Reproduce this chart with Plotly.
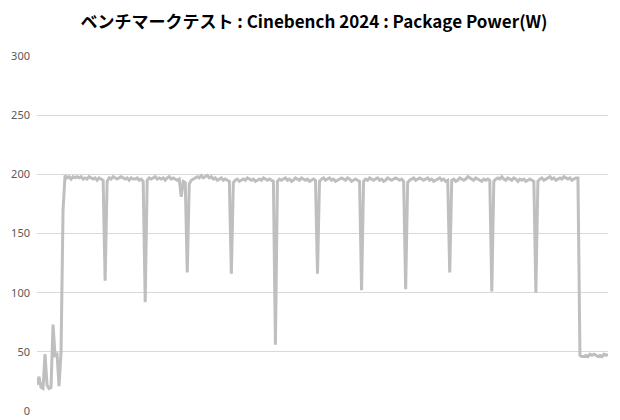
import plotly.graph_objects as go

title_text = "ベンチマークテスト : Cinebench 2024 : Package Power(W)"
y_ticks = [0, 50, 100, 150, 200, 250, 300]

package_power = [
    22, 29, 20, 19, 48, 22, 19, 20, 73, 47,
    48, 21, 50, 170, 199, 197, 198, 196, 198, 197,
    198, 197, 198, 196, 197, 196, 198, 197, 196, 197,
    195, 197, 196, 195, 110, 194, 197, 196, 198, 197,
    196, 197, 198, 197, 196, 197, 195, 197, 196, 196,
    197, 195, 196, 194, 92, 195, 197, 196, 197, 198,
    196, 197, 196, 197, 195, 197, 198, 196, 197, 196,
    195, 196, 181, 194, 193, 117, 192, 195, 196, 197,
    198, 197, 199, 197, 198, 199, 197, 198, 196, 197,
    195, 196, 197, 195, 196, 195, 194, 116, 193, 195,
    196, 194, 195, 196, 195, 197, 196, 195, 196, 194,
    195, 196, 195, 197, 196, 195, 196, 195, 194, 56,
    194, 196, 195, 196, 197, 195, 196, 194, 195, 197,
    196, 195, 197, 196, 195, 196, 194, 195, 196, 195,
    116, 194, 196, 197, 195, 196, 197, 195, 196, 194,
    195, 196, 197, 196, 195, 197, 196, 194, 195, 196,
    195, 194, 102, 194, 196, 195, 197, 196, 195, 196,
    197, 195, 196, 194, 195, 197, 196, 195, 196, 197,
    196, 195, 196, 194, 103, 193, 195, 196, 197, 195,
    196, 197, 196, 195, 196, 197, 195, 196, 194, 195,
    196, 197, 195, 196, 194, 195, 117, 195, 196, 194,
    195, 197, 196, 195, 196, 198, 197, 196, 195, 197,
    196, 195, 194, 196, 195, 196, 195, 101, 194, 196,
    197, 196, 198, 196, 195, 197, 196, 195, 197, 196,
    194, 196, 195, 196, 194, 195, 196, 195, 194, 100,
    194, 196, 197, 195, 196, 197, 198, 196, 197, 195,
    196, 197, 196, 198, 197, 196, 197, 195, 196, 197,
    197, 47, 46, 46, 47, 46, 48, 47, 48, 47,
    46, 47, 46, 48, 47, 48,
]
sample_index = list(range(len(package_power)))

fig = go.Figure()
fig.add_trace(go.Scatter(
    x=sample_index, y=package_power, mode="lines",
    line=dict(color="#BFBFBF", width=3),
    hoverinfo="skip", showlegend=False,
))

fig.update_layout(
    width=612, height=412,
    margin=dict(l=29, r=12, t=48, b=9, autoexpand=False),
    paper_bgcolor="white", plot_bgcolor="white",
    title=dict(
        text="<b>" + title_text + "</b>",
        x=0.5, xanchor="center", y=0.966, yanchor="middle",
        yref="container", automargin=False,
        font=dict(family="Noto Sans CJK JP", size=17, color="#000000"),
    ),
    xaxis=dict(
        range=[0, len(package_power) - 1], automargin=False,
        showticklabels=False, showgrid=False, zeroline=False, showline=False,
        ticks="",
    ),
    yaxis=dict(
        range=[0, 300], tickvals=y_ticks, automargin=False,
        showgrid=True, gridcolor="#D9D9D9", gridwidth=1,
        zeroline=False, showline=False, ticks="",
        tickfont=dict(family="Noto Sans", size=11, color="#595959"),
        ticklabelstandoff=6,
    ),
)

fig.write_html("out.html")
